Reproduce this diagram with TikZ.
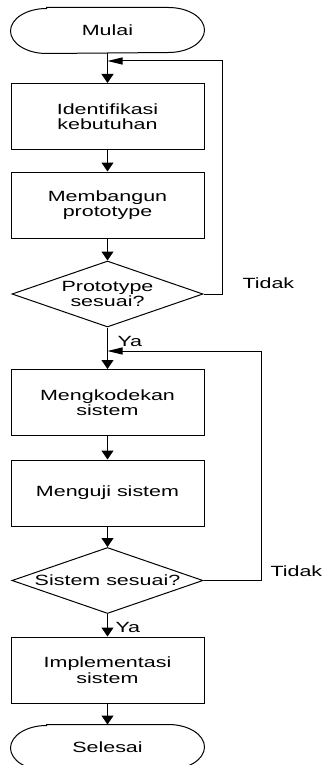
\documentclass[tikz,border=0pt]{standalone}
\usepackage{fontspec}
\setmainfont{Liberation Sans}[FakeStretch=1.45]
\usetikzlibrary{arrows.meta,shapes.geometric}

\begin{document}
\begin{tikzpicture}[x=1pt, y=-1pt, line width=1pt,
    every node/.style={font=\fontsize{14.8}{15.5}\selectfont},
    proses/.style={draw, align=center, minimum width=193pt, minimum height=66pt, inner sep=0pt},
    terminal/.style={align=center, minimum width=193pt, minimum height=45pt, inner sep=0pt},
    keputusan/.style={draw, diamond, aspect=2.9, align=center, minimum width=191pt, minimum height=66pt, inner sep=0pt},
    label/.style={anchor=west, inner sep=0pt},
    panah/.style={-{Triangle[length=9pt, width=12pt]}},
    balik/.style={-{Triangle[length=15pt, width=7pt]}}]
    \useasboundingbox (0,0) rectangle (322,765);
    \clip (0,0) rectangle (322,765);

    % Flowchart nodes
    \node[terminal] (mulai) at (107.5,30.5) {Mulai};
    \node[proses] (identifikasi) at (107.5,116.5) {Identifikasi\\kebutuhan};
    \node[proses] (prototype) at (107.5,205) {Membangun\\prototype};
    \node[keputusan] (cekproto) at (107.5,294) {Prototype\\sesuai?};
    \node[proses] (kode) at (107.5,402.5) {Mengkodekan\\sistem};
    \node[proses] (uji) at (107.5,493) {Menguji sistem};
    \node[keputusan] (ceksistem) at (107.5,580.5) {Sistem sesuai?};
    \node[proses] (implementasi) at (107.5,670) {Implementasi\\sistem};
    \node[terminal] (selesai) at (107.5,747.5) {Selesai};

    % Terminal outlines
    \draw ([xshift=36pt]mulai.north west) -- ([xshift=-36pt]mulai.north east)
        arc[start angle=90, end angle=-90, x radius=36pt, y radius=22.5pt]
        -- ([xshift=36pt]mulai.south west)
        arc[start angle=270, end angle=90, x radius=36pt, y radius=22.5pt] -- cycle;
    \draw ([xshift=36pt]selesai.north west) -- ([xshift=-36pt]selesai.north east)
        arc[start angle=90, end angle=-90, x radius=36pt, y radius=22.5pt]
        -- ([xshift=36pt]selesai.south west)
        arc[start angle=270, end angle=90, x radius=36pt, y radius=22.5pt] -- cycle;

    % Junctions for the loops
    \coordinate (gabung1) at (107.5,61);
    \coordinate (gabung2) at (107.5,351);

    % Main flow
    \draw[panah] (mulai) -- (identifikasi);
    \draw[panah] (identifikasi) -- (prototype);
    \draw[panah] (prototype) -- (cekproto);
    \draw[panah] (cekproto) -- (kode);
    \draw[panah] (kode) -- (uji);
    \draw[panah] (uji) -- (ceksistem);
    \draw[panah] (ceksistem) -- (implementasi);
    \draw[panah] (implementasi) -- (selesai.north);

    % Loops back
    \draw[balik] (cekproto.east) -- ++(19,0) |- (gabung1);
    \draw[balik] (ceksistem.east) -- ++(58,0) |- (gabung2);

    % Labels
    \node[label] (tidak1) at (242,283) {Tidak};
    \node[label] (ya1) at (117,341.5) {Ya};
    \node[label] (tidak2) at (270,571) {Tidak};
    \node[label] (ya2) at (115,627.5) {Ya};
\end{tikzpicture}
\end{document}
